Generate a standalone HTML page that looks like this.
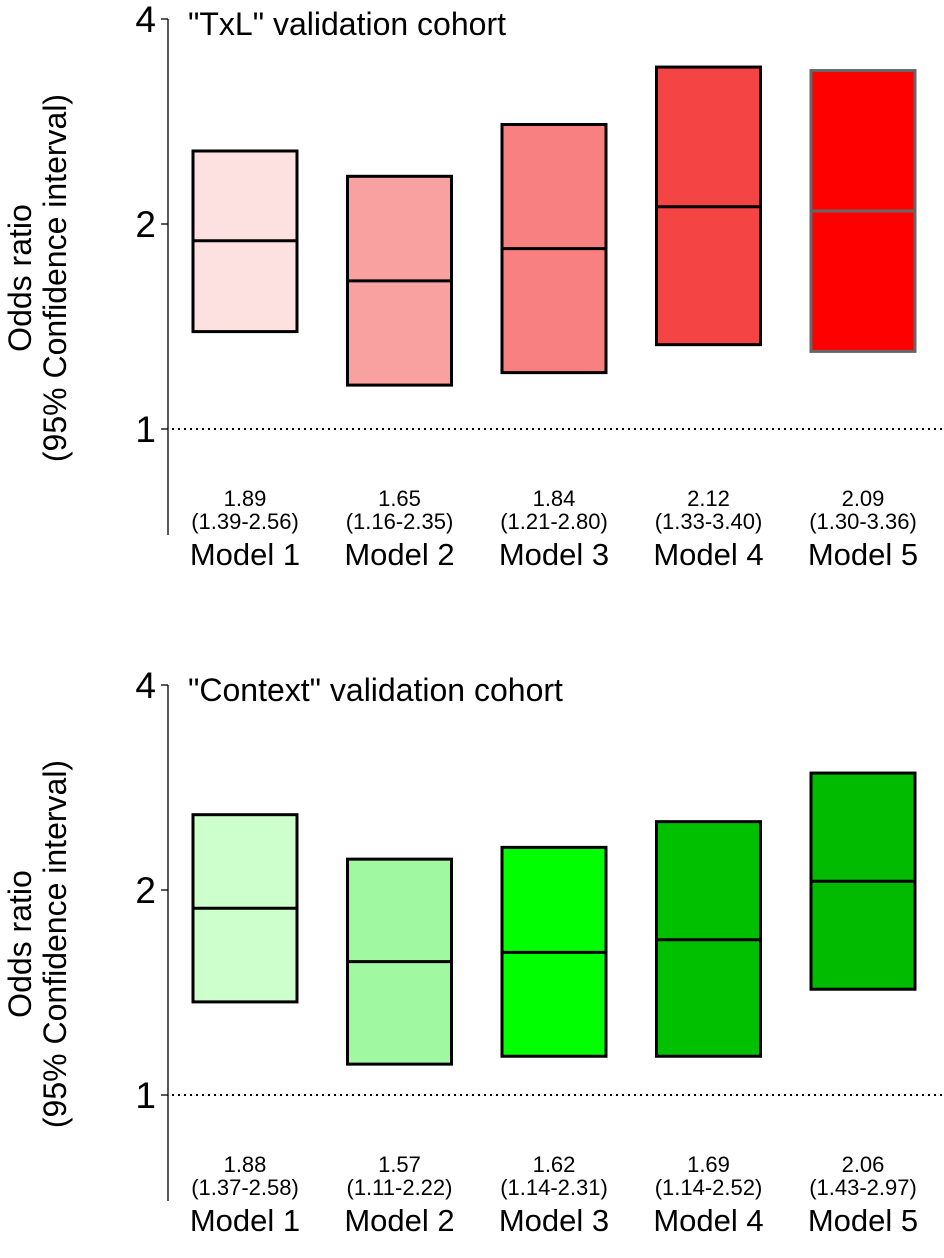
<!DOCTYPE html>
<html><head><meta charset="utf-8"><style>
body{margin:0;background:#fff}
svg{display:block;font-family:"Liberation Sans",Arial,sans-serif}
</style></head><body>
<svg id="chart" width="944" height="1258" viewBox="0 0 944 1258" xmlns="http://www.w3.org/2000/svg"></svg>
<script>
const models = ["Model 1","Model 2","Model 3","Model 4","Model 5"];
const txlOR = [1.89,1.65,1.84,2.12,2.09];
const txlLow = [1.39,1.16,1.21,1.33,1.30];
const txlHigh = [2.56,2.35,2.80,3.40,3.36];
const ctxOR = [1.88,1.57,1.62,1.69,2.06];
const ctxLow = [1.37,1.11,1.14,1.14,1.43];
const ctxHigh = [2.58,2.22,2.31,2.52,2.97];
const txlColors = ["#fde0e0","#f9a0a0","#f98080","#f44444","#ff0000"];
const ctxColors = ["#ccffcc","#a0f8a0","#00ff00","#00c000","#00bb00"];
const txlStroke = ["#000","#000","#000","#000","#666"];
const ctxStroke = ["#000","#000","#000","#000","#000"];
const yTicks = [1,2,4];

const svg = document.getElementById('chart');
const NS = 'http://www.w3.org/2000/svg';
function mk(tag, attrs, parent, text){
  const e = document.createElementNS(NS, tag);
  for (const k in attrs) e.setAttribute(k, attrs[k]);
  if (text !== undefined) e.textContent = text;
  (parent||svg).appendChild(e);
  return e;
}
const xCenter = i => 245 + i*154.5;
const boxW = 104;

function panel(top, title, ors, lows, highs, fills, strokes, key){
  const g = mk('g', {});
  
  
  const y1 = top + 429, per = 205;
  const y = v => y1 - per * Math.log2(v);
  const ax = mk('line', {x1:168, y1:y(4), x2:168, y2:top+535, stroke:'#000','stroke-width':1.3}, g);
  
  
  yTicks.forEach(t => {
    const tk = mk('line', {x1:161, y1:y(t), x2:168, y2:y(t), stroke:'#000','stroke-width':1.3}, g);
    
    
    const tl = mk('text', {x:156, y:y(t)+13, 'font-size':37, 'text-anchor':'end'}, g, String(t));
    
    
  });
  const ref = mk('line', {x1:172, y1:y(1), x2:944, y2:y(1), stroke:'#000','stroke-width':2,'stroke-dasharray':'2 4'}, g);
  
  
  const tt = mk('text', {x:188, y:top+35, 'font-size':32}, g, title);
  
  
  const yt = mk('text', {transform:`translate(31,${top+278}) rotate(-90)`, 'font-size':32, 'text-anchor':'middle'}, g);
  
  
  mk('tspan', {x:0, dy:0}, yt, 'Odds ratio');
  mk('tspan', {x:0, dy:35}, yt, '(95% Confidence interval)');
  models.forEach((m, i) => {
    const cx = xCenter(i);
    const r = mk('rect', {x:cx-boxW/2, y:y(highs[i]), width:boxW, height:y(lows[i])-y(highs[i]), fill:fills[i], stroke:strokes[i], 'stroke-width':3}, g);
    
    
    const l = mk('line', {x1:cx-boxW/2, y1:y(ors[i]), x2:cx+boxW/2, y2:y(ors[i]), stroke:strokes[i], 'stroke-width':3}, g);
    
    
    const v = mk('text', {x:cx, y:top+506, 'font-size':22, 'text-anchor':'middle'}, g, ors[i].toFixed(2));
    
    
    const c = mk('text', {x:cx, y:top+529, 'font-size':22, 'text-anchor':'middle'}, g, '(' + lows[i].toFixed(2) + '-' + highs[i].toFixed(2) + ')');
    
    
    const ml = mk('text', {x:cx, y:top+565, 'font-size':31, 'text-anchor':'middle'}, g, m);
    
    
  });
}
panel(0, '"TxL" validation cohort', txlOR, txlLow, txlHigh, txlColors, txlStroke, 'txl');
panel(666, '"Context" validation cohort', ctxOR, ctxLow, ctxHigh, ctxColors, ctxStroke, 'context');
</script>
</body></html>
